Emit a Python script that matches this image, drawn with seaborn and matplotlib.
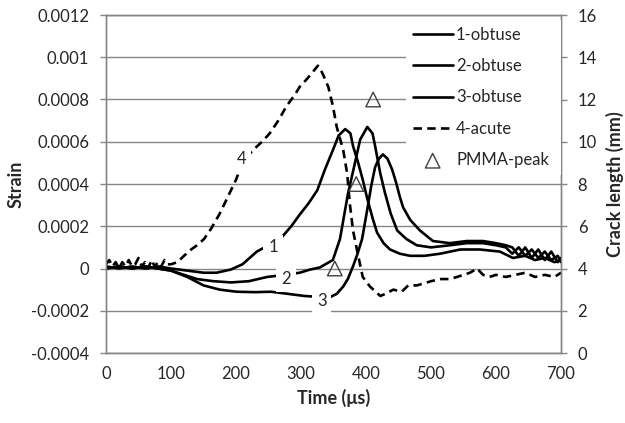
import matplotlib
matplotlib.use("Agg")
import matplotlib.pyplot as plt
import seaborn as sns

# Strain gauge readings, time in microseconds
t1 = [0, 20, 40, 60, 80, 100, 125, 150, 170, 192, 210, 232, 250, 271, 285, 298, 312, 325, 337, 349, 358,
      368, 376, 380, 388, 395, 402, 410, 417, 427, 437, 452, 468, 490, 514, 545, 575, 606, 626, 645, 660,
      675, 690, 700]
s1 = [0.00001, 0.0, 0.00001, 0.0, 0.00001, 0.0, -0.00001, -0.00002, -0.00002, -0.000005, 0.00002,
      0.00008, 0.00011, 0.00015, 0.0002, 0.000255, 0.00031, 0.00037, 0.00047, 0.00056, 0.00063,
      0.00066, 0.00064, 0.00058, 0.0005, 0.00042, 0.00033, 0.00024, 0.00017, 0.00012, 0.00009,
      0.00007, 0.00006, 0.00006, 0.00007, 0.00009, 0.00009, 0.00008, 0.00005, 0.00006, 0.00004,
      0.00005, 0.00003, 0.00004]

t2 = [0, 20, 40, 60, 80, 100, 120, 140, 165, 192, 220, 248, 275, 298, 314, 329, 349, 360, 368, 372, 383,
      391, 402, 410, 414, 422, 429, 438, 448, 462, 478, 500, 529, 555, 580, 600, 615, 625, 635, 645, 655,
      665, 675, 685, 695, 700]
s2 = [0.0, 0.00001, 0.0, 0.00001, 0.0, -0.00001, -0.00003, -0.00005, -0.00006, -0.000066, -0.00006,
      -0.00004, -0.00003, -0.00002, -0.000005, 0.000005, 0.00004, 0.00014, 0.00028, 0.00035, 0.0005,
      0.00061, 0.00067, 0.00064, 0.00058, 0.00045, 0.00036, 0.00026, 0.00018, 0.00014, 0.00011,
      0.0001, 0.00011, 0.00012, 0.00012, 0.00011, 0.0001, 0.00007, 0.0001, 0.00006, 0.00009,
      0.00005, 0.00008, 0.00004, 0.00006, 0.00003]

t3 = [0, 20, 40, 60, 80, 100, 125, 150, 175, 201, 230, 254, 280, 305, 330, 345, 355, 365, 372, 380, 387,
      394, 402, 408, 414, 420, 426, 433, 440, 446, 452, 457, 468, 483, 503, 529, 555, 580, 600, 615, 625,
      635, 645, 655, 665, 675, 685, 695, 700]
s3 = [0.0, 0.00001, 0.0, 0.00001, 0.0, -0.00001, -0.00004, -0.00008, -0.0001, -0.00011, -0.000112,
      -0.00011, -0.00012, -0.00013, -0.000135, -0.000135, -0.00012, -0.000085, -0.00005, 0.00001, 0.00007,
      0.00014, 0.00028, 0.00039, 0.00048, 0.00052, 0.00054, 0.00052, 0.00047, 0.00041, 0.00034,
      0.00029, 0.00023, 0.00018, 0.00013, 0.00012, 0.00013, 0.00013, 0.00012, 0.00011, 0.0001,
      0.00006, 0.0001, 0.00005, 0.00009, 0.00004, 0.00008, 0.00003, 0.00005]

t4 = [0, 5, 10, 15, 20, 25, 30, 35, 40, 45, 50, 55, 60, 65, 70, 75, 80, 85, 90, 95, 100,
      110, 120, 131, 140, 151, 162, 175, 186, 200, 211, 226, 240, 252, 265, 278, 290, 298, 310, 318, 326,
      329, 335, 342, 349, 355, 365, 371, 375, 380, 388, 395, 406, 415, 422, 430, 442, 455, 465, 478, 490,
      500, 515, 529, 540, 550, 560, 571, 580, 590, 600, 615, 630, 645, 660, 675, 690, 700]
s4 = [0.00002, 0.00004, 0.00001, 0.00003, 0.0, 0.00003, 0.00001, 0.00004, 0.00001, 0.00002, 0.00005,
      0.00001, 0.00003, 0.0, 0.00004, 0.00001, 0.00003, 0.00001, 0.00004, 0.00002, 0.00002,
      0.00003, 0.00006, 0.00009, 0.00011, 0.00014, 0.00019, 0.00026, 0.00033, 0.00042, 0.00051,
      0.00056, 0.0006, 0.00064, 0.0007, 0.00077, 0.00082, 0.00086, 0.0009, 0.00093, 0.00096,
      0.00095, 0.00091, 0.00086, 0.00077, 0.00067, 0.00056, 0.00045, 0.00031, 0.00018, 0.00006,
      -0.00004, -0.000085, -0.00011, -0.00013, -0.00012, -0.0001, -0.00011, -0.00008, -0.00008, -0.00007,
      -0.00006, -0.00005, -0.00005, -0.00004, -0.00003, -0.00002, 0.0, -0.00003, -0.00004, -0.00003,
      -0.00004, -0.00003, -0.00002, -0.00004, -0.00003, -0.00004, -0.00002]

# PMMA peak crack length (mm)
t_pmma = [352, 385, 411]
crack_pmma = [4, 8, 12]

series_names = ["1-obtuse", "2-obtuse", "3-obtuse", "4-acute", "PMMA-peak"]
curve_tags = ["1", "2", "3", "4"]

time_ticks = [0, 100, 200, 300, 400, 500, 600, 700]
strain_ticks = [-0.0004, -0.0002, 0, 0.0002, 0.0004, 0.0006, 0.0008, 0.001, 0.0012]
strain_labels = ["-0.0004", "-0.0002", "0", "0.0002", "0.0004", "0.0006", "0.0008", "0.001", "0.0012"]
crack_ticks = [0, 2, 4, 6, 8, 10, 12, 14, 16]

sns.set_style("white")
plt.rcParams["font.family"] = ["Lato", "DejaVu Sans"]
grey = "#868686"

fig = plt.figure(figsize=(6.25, 4.23), dpi=100)
ax = fig.add_axes([106 / 625, 70 / 423, 455 / 625, 338 / 423])
ax2 = ax.twinx()

lw = 1.9
sns.lineplot(x=t1, y=s1, ax=ax, color="black", lw=lw, label=series_names[0], zorder=3)
sns.lineplot(x=t2, y=s2, ax=ax, color="black", lw=lw, label=series_names[1], zorder=3)
sns.lineplot(x=t3, y=s3, ax=ax, color="black", lw=lw, label=series_names[2], zorder=3)
sns.lineplot(x=t4, y=s4, ax=ax, color="black", lw=lw, linestyle=(0, (3.2, 2.0)),
             label=series_names[3], zorder=3)
sns.scatterplot(x=t_pmma, y=crack_pmma, ax=ax2, marker="^", s=110, facecolor="none",
                edgecolor="#404040", linewidth=1.0, label=series_names[4], zorder=4)

if ax.get_legend():
    ax.get_legend().remove()
if ax2.get_legend():
    ax2.get_legend().remove()

# curve tags with white boxes over the lines
tag_pos = [(257, 0.0001), (277, -0.000052), (332, -0.000155), (209, 0.00052)]
for tag, (tx, ty) in zip(curve_tags, tag_pos):
    ax.text(tx, ty, tag, fontsize=12, ha="center", va="center", zorder=5,
            bbox=dict(facecolor="white", edgecolor="none", pad=3.5))

ax.set_xlim(0, 700)
ax.set_ylim(-0.0004, 0.0012)
ax2.set_ylim(0, 16)
ax.set_xticks(time_ticks)
ax.set_xticklabels([str(v) for v in time_ticks])
ax.set_yticks(strain_ticks)
ax.set_yticklabels(strain_labels)
ax2.set_yticks(crack_ticks)
ax2.set_yticklabels([str(v) for v in crack_ticks])

ax.yaxis.grid(True, color=grey, lw=1.0)
ax.xaxis.grid(False)
ax.set_axisbelow(True)
for a in (ax, ax2):
    for sp in a.spines.values():
        sp.set_color(grey)
        sp.set_linewidth(1.0)
ax.tick_params(axis="x", length=0, pad=9, labelsize=12)
ax.tick_params(axis="y", length=4, width=1, color=grey, pad=8, labelsize=12, direction="out", left=True)
ax2.tick_params(axis="y", length=4, width=1, color=grey, pad=8, labelsize=12, direction="out", right=True)

ax.set_xlabel("Time (μs)", fontsize=13, fontweight="bold")
ax.set_ylabel("Strain", fontsize=13, fontweight="bold")
ax2.set_ylabel("Crack length (mm)", fontsize=13, fontweight="bold")
ax.xaxis.set_label_coords(0.5, -0.107)
ax.yaxis.set_label_coords(-0.18, 0.5)
ax2.yaxis.set_label_coords(1.099, 0.5)

h1, l1 = ax.get_legend_handles_labels()
h2, l2 = ax2.get_legend_handles_labels()
x0 = (406 - 106) / 455
leg = ax2.legend(h1 + h2, l1 + l2, loc="upper left", bbox_to_anchor=(x0, 0, 1 - x0, 0.985),
                 mode="expand", fontsize=12, frameon=True, fancybox=False, framealpha=1,
                 facecolor="white", edgecolor="none", borderaxespad=0, handlelength=2.4,
                 handletextpad=0.2, labelspacing=0.92, borderpad=0.4)
leg.set_zorder(10)

fig.savefig("out.png", dpi=100)
